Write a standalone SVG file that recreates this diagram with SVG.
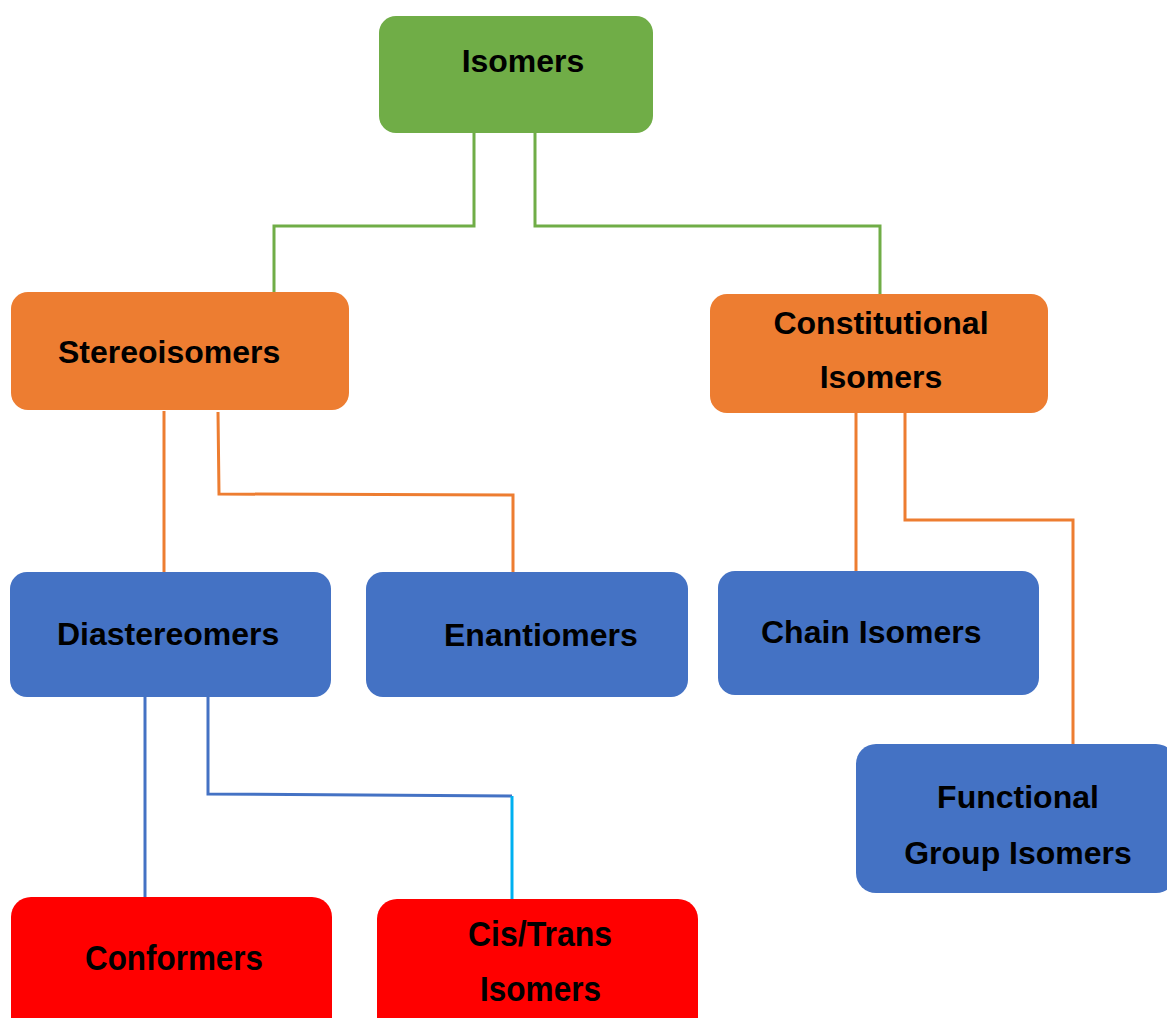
<svg xmlns="http://www.w3.org/2000/svg" width="1167" height="1018" viewBox="0 0 1167 1018">
<style>
  .t { font-family: "Liberation Sans", Arial, sans-serif; font-weight: bold; font-size: 32px; fill: #000; }
  .n { font-family: "Liberation Sans", Arial, sans-serif; font-weight: bold; font-size: 35px; fill: #000; }
  .green { fill: #70AD47; }
  .orange { fill: #ED7D31; }
  .blue { fill: #4472C4; }
  .red { fill: #FF0000; }
  .c { fill: none; stroke-width: 3; stroke-linejoin: miter; }
</style>
<rect width="1167" height="1018" fill="#fff"/>
<g id="connectors">
  <polyline class="c" stroke="#70AD47" points="474,133 474,226 274,226 274,293"/>
  <polyline class="c" stroke="#70AD47" points="535,133 535,226 880,226 880,295"/>
  <polyline class="c" stroke="#ED7D31" points="164,411 164,573"/>
  <polyline class="c" stroke="#ED7D31" points="218,412 219,494 513,495 513,573"/>
  <polyline class="c" stroke="#ED7D31" points="856,413 856,571"/>
  <polyline class="c" stroke="#ED7D31" points="905,413 905,520 1073,520 1073,745"/>
  <polyline class="c" stroke="#4472C4" points="145,697 145,898"/>
  <polyline class="c" stroke="#4472C4" points="208,697 208,794 512,796"/>
  <polyline class="c" stroke="#00B0F0" points="512,796 512,900"/>
</g>
<g id="n-isomers">
  <rect class="green" x="379" y="16" width="274" height="117" rx="17"/>
  <text class="t" x="523" y="72" text-anchor="middle">Isomers</text>
</g>
<g id="n-stereoisomers">
  <rect class="orange" x="11" y="292" width="338" height="118" rx="17"/>
  <text class="t" x="58" y="363">Stereoisomers</text>
</g>
<g id="n-constitutional">
  <rect class="orange" x="710" y="294" width="338" height="119" rx="17"/>
  <text class="t" x="881" y="334" text-anchor="middle" font-size="30">Constitutional</text>
  <text class="t" x="881" y="388" text-anchor="middle" font-size="30">Isomers</text>
</g>
<g id="n-diastereomers">
  <rect class="blue" x="10" y="572" width="321" height="125" rx="17"/>
  <text class="t" x="57" y="645" font-size="30">Diastereomers</text>
</g>
<g id="n-enantiomers">
  <rect class="blue" x="366" y="572" width="322" height="125" rx="17"/>
  <text class="t" x="444" y="646">Enantiomers</text>
</g>
<g id="n-chain">
  <rect class="blue" x="718" y="571" width="321" height="124" rx="17"/>
  <text class="t" x="761" y="643">Chain Isomers</text>
</g>
<g id="n-functional">
  <rect class="blue" x="856" y="744" width="320" height="149" rx="20"/>
  <text class="t" x="1018" y="808" text-anchor="middle">Functional</text>
  <text class="t" x="1018" y="864" text-anchor="middle">Group Isomers</text>
</g>
<g id="n-conformers">
  <rect class="red" x="11" y="897" width="321" height="140" rx="20"/>
  <text class="n" x="85" y="970" textLength="178" lengthAdjust="spacingAndGlyphs">Conformers</text>
</g>
<g id="n-cistrans">
  <rect class="red" x="377" y="899" width="321" height="140" rx="20"/>
  <text class="n" x="468" y="946" textLength="144" lengthAdjust="spacingAndGlyphs">Cis/Trans</text>
  <text class="n" x="480" y="1001" textLength="121" lengthAdjust="spacingAndGlyphs">Isomers</text>
</g>
</svg>
